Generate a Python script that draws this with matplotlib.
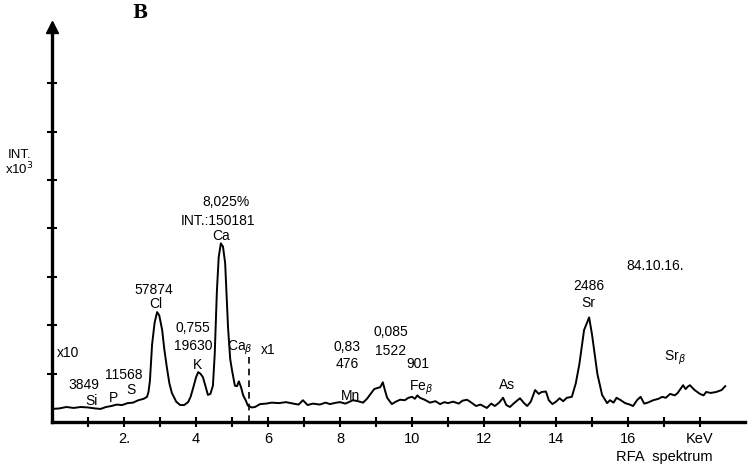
import matplotlib
matplotlib.use("Agg")
import matplotlib.pyplot as plt

plt.rcParams["font.family"] = ["Liberation Sans", "DejaVu Sans"]

energy = [0.0, 0.2, 0.4, 0.6, 0.8, 1.0, 1.2, 1.35, 1.5, 1.65, 1.8, 1.95, 2.1, 2.25,
          2.4, 2.55, 2.64, 2.68, 2.72, 2.78, 2.85, 2.92, 2.98, 3.06, 3.12, 3.19, 3.26,
          3.33, 3.45, 3.56, 3.67, 3.78, 3.85, 3.92, 4.0, 4.06, 4.12, 4.19, 4.26, 4.33,
          4.40, 4.47, 4.52, 4.58, 4.63, 4.69, 4.75, 4.81, 4.89, 4.95, 5.0, 5.08, 5.14,
          5.19, 5.25, 5.31, 5.38, 5.44, 5.55, 5.64, 5.78, 5.95, 6.1, 6.3, 6.5, 6.7,
          6.85, 6.97, 7.1, 7.25, 7.44, 7.6, 7.72, 7.9, 8.0, 8.15, 8.36, 8.5, 8.64,
          8.75, 8.83, 8.95, 9.03, 9.12, 9.19, 9.25, 9.31, 9.44, 9.55, 9.67, 9.8, 9.9,
          10.0, 10.08, 10.15, 10.22, 10.35, 10.5, 10.65, 10.78, 10.9, 11.0, 11.14,
          11.3, 11.4, 11.53, 11.65, 11.78, 11.9, 12.08, 12.2, 12.3, 12.42, 12.53,
          12.62, 12.72, 12.85, 13.0, 13.1, 13.2, 13.3, 13.42, 13.52, 13.6, 13.72,
          13.8, 13.9, 14.0, 14.1, 14.2, 14.3, 14.44, 14.55, 14.65, 14.78, 14.92,
          15.0, 15.15, 15.28, 15.42, 15.5, 15.6, 15.68, 15.8, 15.92, 16.05, 16.14,
          16.25, 16.35, 16.45, 16.55, 16.7, 16.85, 16.95, 17.05, 17.17, 17.3, 17.38,
          17.53, 17.6, 17.66, 17.72, 17.85, 18.0, 18.1, 18.17, 18.3, 18.45, 18.6, 18.7]
intensity = [0.27, 0.28, 0.31, 0.29, 0.31, 0.30, 0.28, 0.27, 0.31, 0.33, 0.36, 0.35,
             0.39, 0.40, 0.45, 0.48, 0.52, 0.62, 0.85, 1.60, 2.05, 2.27, 2.20, 1.90,
             1.50, 1.13, 0.80, 0.60, 0.42, 0.35, 0.35, 0.41, 0.52, 0.70, 0.92, 1.03,
             1.00, 0.93, 0.75, 0.56, 0.58, 0.75, 1.40, 2.70, 3.40, 3.69, 3.62, 3.28,
             1.95, 1.30, 1.07, 0.75, 0.74, 0.84, 0.72, 0.55, 0.45, 0.34, 0.30, 0.31,
             0.37, 0.38, 0.40, 0.39, 0.41, 0.38, 0.36, 0.45, 0.35, 0.38, 0.36, 0.40,
             0.37, 0.40, 0.41, 0.38, 0.45, 0.43, 0.40, 0.48, 0.56, 0.68, 0.70, 0.72,
             0.82, 0.65, 0.50, 0.37, 0.42, 0.46, 0.45, 0.50, 0.52, 0.48, 0.55, 0.50,
             0.46, 0.40, 0.43, 0.37, 0.41, 0.39, 0.42, 0.38, 0.44, 0.46, 0.40, 0.33,
             0.36, 0.29, 0.38, 0.33, 0.40, 0.50, 0.35, 0.31, 0.40, 0.49, 0.40, 0.33,
             0.42, 0.66, 0.58, 0.62, 0.63, 0.45, 0.37, 0.42, 0.49, 0.43, 0.50, 0.52,
             0.80, 1.20, 1.90, 2.16, 1.81, 0.99, 0.56, 0.39, 0.45, 0.40, 0.50, 0.45,
             0.39, 0.36, 0.33, 0.45, 0.52, 0.38, 0.40, 0.45, 0.48, 0.52, 0.50, 0.58,
             0.55, 0.60, 0.76, 0.68, 0.73, 0.76, 0.66, 0.58, 0.55, 0.62, 0.60, 0.62,
             0.66, 0.74]

x_ticks = [2, 4, 6, 8, 10, 12, 14, 16, 18]
x_ticklabels = ["2.", "4", "6", "8", "10", "12", "14", "16", "KeV"]
minor_ticks = [1, 3, 5, 7, 9, 11, 13, 15, 17]
y_ticks = [1, 2, 3, 4, 5, 6, 7]

# peak labels: (text, energy, intensity)
labels = [
    ("57874", 2.83, 2.72), ("Cl", 2.89, 2.43),
    ("0,755", 3.92, 1.94), ("19630", 3.92, 1.57), ("K", 4.03, 1.18),
    ("8,025%", 4.82, 4.54), ("INT.:150181", 4.6, 4.16), ("Ca", 4.69, 3.84),
    ("Ca$_\\beta$", 5.22, 1.53), ("x1", 6.0, 1.48), ("x10", 0.45, 1.42),
    ("3849", 0.89, 0.76), ("Si", 1.1, 0.43), ("P", 1.7, 0.5), ("S", 2.2, 0.66),
    ("11568", 2.0, 0.97),
    ("0,83", 8.2, 1.55), ("476", 8.2, 1.2), ("0,085", 9.4, 1.86), ("1522", 9.4, 1.46),
    ("901", 10.17, 1.2), ("Mn", 8.28, 0.54), ("Fe$_\\beta$", 10.25, 0.7),
    ("As", 12.64, 0.76), ("2486", 14.9, 2.8), ("Sr", 14.9, 2.45),
    ("Sr$_\\beta$", 17.3, 1.32), ("84.10.16.", 16.75, 3.22),
]

fig = plt.figure(figsize=(7.48, 4.67), dpi=100)
ax = fig.add_axes([52 / 748, 45 / 467, 693 / 748, 397 / 467])

ax.plot(energy, intensity, color="black", linewidth=1.4)
ax.plot([5.47, 5.47], [0, 1.45], color="black", linewidth=1.2, linestyle=(0, (4, 3)))

ax.set_xlim(0, 19.25)
ax.set_ylim(0, 8.2)
for s in ["top", "right"]:
    ax.spines[s].set_visible(False)
for s in ["left", "bottom"]:
    ax.spines[s].set_linewidth(2.4)

ax.set_xticks(x_ticks)
ax.set_xticklabels(x_ticklabels, fontsize=10.5)
ax.set_xticks(minor_ticks, minor=True)
ax.set_yticks(y_ticks)
ax.set_yticklabels([])
ax.tick_params(axis="both", which="both", direction="inout", length=7, width=1.5, pad=4)

# arrow head on top of the y axis
ax.plot([0], [8.15], marker="^", color="black", markersize=8, clip_on=False)

for txt, xe, yi in labels:
    ax.text(xe, yi, txt, ha="center", va="center", fontsize=10)

ax.text(-0.9, 5.35, "INT.\nx10$^3$", ha="center", va="center", fontsize=9.5, linespacing=1.0)
ax.text(17.0, -0.72, "RFA  spektrum", ha="center", va="center", fontsize=10.5)
fig.text(140 / 748, 1 - 13 / 467, "B", ha="center", va="center", fontsize=13,
         fontweight="bold", family="DejaVu Serif")

fig.savefig("out.png", dpi=100)
